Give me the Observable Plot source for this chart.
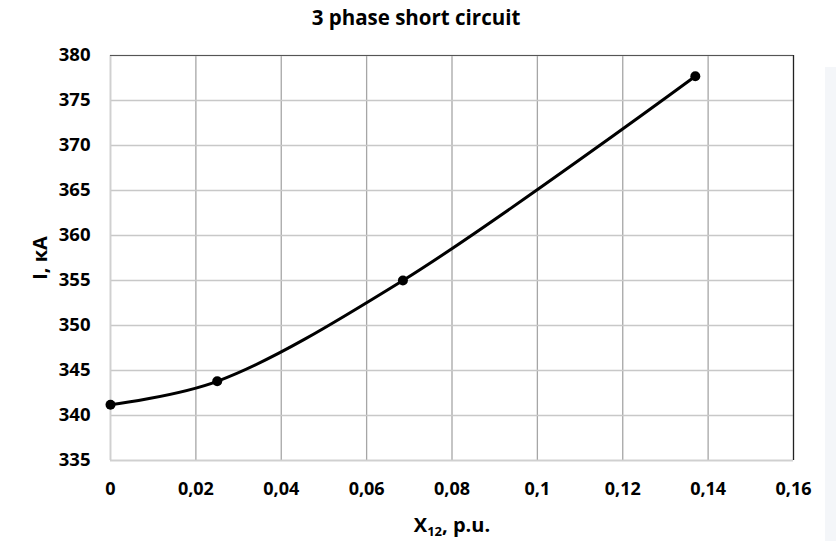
<!DOCTYPE html>
<html>
<head>
<meta charset="utf-8">
<script src="https://cdn.jsdelivr.net/npm/d3@7"></script>
<script src="https://cdn.jsdelivr.net/npm/@observablehq/plot@0.6"></script>
<style>
  body { margin: 0; background: #fff; width: 836px; height: 541px; overflow: hidden; position: relative; font-family: "Open Sans", sans-serif; }
  #title { position: absolute; left: 0; top: 3px; width: 832px; text-align: center; font-weight: 700; font-size: 20.5px; line-height: normal; color: #000; }
  #side { position: absolute; left: 825px; top: 67px; width: 11px; height: 474px; background: #f4f6f9; }
  #chart { position: absolute; left: 0; top: 0; }
</style>
</head>
<body>
<div id="side"></div>
<div id="chart"></div>
<div id="title">3 phase short circuit</div>
<script>
const xValues = [0, 0.025, 0.0685, 0.137];
const yValues = [341.2, 343.8, 355.0, 377.7];
const xTicks = [0, 0.02, 0.04, 0.06, 0.08, 0.1, 0.12, 0.14, 0.16];
const yTicks = [335, 340, 345, 350, 355, 360, 365, 370, 375, 380];

const data = xValues.map((x, i) => ({x, y: yValues[i]}));
const fmtX = d => String(d).replace(".", ",");

const chart = Plot.plot({
  width: 836,
  height: 541,
  marginTop: 55,
  marginBottom: 81,
  marginLeft: 110,
  marginRight: 43,
  style: { fontFamily: "'Open Sans', sans-serif", fontSize: "18px", fontWeight: 700, color: "#000", background: "transparent" },
  x: { domain: [0, 0.16] },
  y: { domain: [335, 380] },
  marks: [
    Plot.gridX(xTicks, { stroke: "#a6a6a6", strokeOpacity: 1, strokeWidth: 1.3 }),
    Plot.gridY(yTicks, { stroke: "#c8c8c8", strokeOpacity: 1, strokeWidth: 1.3 }),
    Plot.ruleY([335], { stroke: "#d0d0d0", strokeWidth: 1.5 }),
    Plot.ruleX([0], { stroke: "#d0d0d0", strokeWidth: 1.5 }),
    Plot.ruleY([380], { stroke: "#555", strokeWidth: 1.2 }),
    Plot.ruleX([0.16], { stroke: "#222", strokeWidth: 1.2 }),
    Plot.axisX(xTicks, { tickSize: 0, tickPadding: 22, tickFormat: fmtX, fontSize: 18, fontWeight: 700, label: null }),
    Plot.axisY(yTicks, { tickSize: 0, tickPadding: 20, fontSize: 18.5, fontWeight: 700, label: null }),
    Plot.line(data, { x: "x", y: "y", curve: "catmull-rom", stroke: "#000", strokeWidth: 3 }),
    Plot.dot(data, { x: "x", y: "y", r: 5, fill: "#000", stroke: "none" })
  ]
});

const svg = d3.select(chart);
// axis titles as real text
svg.append("text")
  .attr("x", 452).attr("y", 532)
  .attr("text-anchor", "middle")
  .style("font-family", "'Open Sans', sans-serif")
  .style("font-size", "20px").style("font-weight", 700)
  .html('X<tspan dy="4" font-size="13px">12</tspan><tspan dy="-4">, p.u.</tspan>');
svg.append("text")
  .attr("transform", "translate(47,258) rotate(-90)")
  .attr("text-anchor", "middle")
  .style("font-family", "'Open Sans', sans-serif")
  .style("font-size", "20px").style("font-weight", 700)
  .text("I, кА");

document.getElementById("chart").appendChild(chart);
</script>
</body>
</html>
